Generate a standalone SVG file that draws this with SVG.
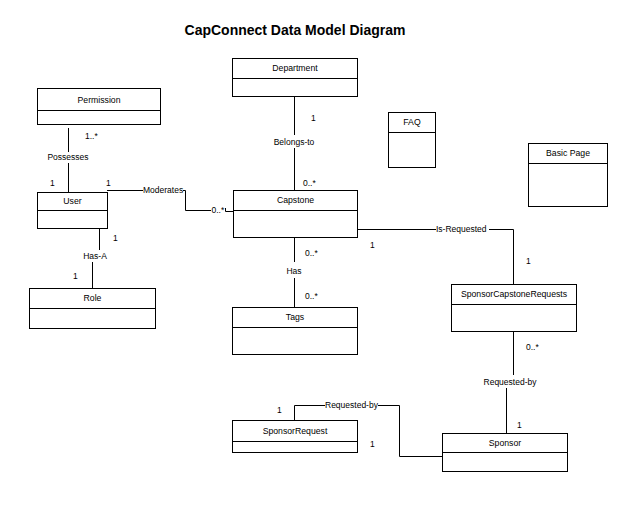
<svg xmlns="http://www.w3.org/2000/svg" width="624" height="518" viewBox="0 0 624 518">
<style>
.box{fill:#fff;stroke:#000;stroke-width:1}
.div{stroke:#000;stroke-width:1}
.t{font-family:"Liberation Sans",Arial,sans-serif;font-size:8.7px;fill:#000;text-anchor:middle}
.l{font-family:"Liberation Sans",Arial,sans-serif;font-size:8.5px;fill:#000;text-anchor:middle}
.m{font-family:"Liberation Sans",Arial,sans-serif;font-size:8.5px;fill:#000}
.title{font-family:"Liberation Sans",Arial,sans-serif;font-size:14px;font-weight:bold;fill:#000;text-anchor:middle}
.c{fill:none;stroke:#000;stroke-width:1}
</style>
<rect width="624" height="518" fill="#fff"/>
<text class="title" x="295" y="35">CapConnect Data Model Diagram</text>

<g id="connectors">
  <!-- Permission - User -->
  <path class="c" d="M68.5,128 V152 M68.5,163 V192"/>
  <text class="l" x="68" y="160">Possesses</text>
  <text class="m" x="85" y="139">1..*</text>
  <text class="m" x="50" y="186">1</text>
  <!-- User - Capstone (Moderates) -->
  <path class="c" d="M107,190.5 H143 M183,190.5 H185.5 V210.5 H211 M225.5,208 V211.5 H233"/>
  <text class="m" x="211.5" y="213">0..*</text>
  <text class="m" x="143" y="193">Moderates</text>
  <text class="m" x="106" y="186">1</text>
  <!-- User - Role -->
  <path class="c" d="M99.5,228 V250 M92.5,262 V288"/>
  <text class="l" x="95" y="259">Has-A</text>
  <text class="m" x="113" y="241">1</text>
  <text class="m" x="73" y="279">1</text>
  <!-- Department - Capstone -->
  <path class="c" d="M294.5,96 V135 M294.5,148 V190"/>
  <text class="l" x="294" y="145">Belongs-to</text>
  <text class="m" x="311" y="121">1</text>
  <text class="m" x="303" y="186">0..*</text>
  <!-- Capstone - Tags -->
  <path class="c" d="M294.5,237 V262 M294.5,278 V307"/>
  <text class="l" x="294" y="274">Has</text>
  <text class="m" x="305" y="256">0..*</text>
  <text class="m" x="305" y="299">0..*</text>
  <!-- Capstone - SponsorCapstoneRequests -->
  <path class="c" d="M357,229.5 H436 M489,229.5 H513.5 V284"/>
  <text class="m" x="436" y="232">Is-Requested</text>
  <text class="m" x="370" y="248">1</text>
  <text class="m" x="526" y="264">1</text>
  <!-- SponsorCapstoneRequests - Sponsor -->
  <path class="c" d="M513.5,331 V375 M506.5,388 V433"/>
  <text class="l" x="510" y="385">Requested-by</text>
  <text class="m" x="526" y="350">0..*</text>
  <text class="m" x="517" y="428">1</text>
  <!-- SponsorRequest - Sponsor -->
  <path class="c" d="M294.5,420 V405.5 H325 M378,405.5 H399.5 V456.5 H442"/>
  <text class="m" x="325" y="408">Requested-by</text>
  <text class="m" x="277" y="413">1</text>
  <text class="m" x="370" y="447">1</text>
</g>

<g id="permission">
  <rect class="box" x="37.5" y="88.5" width="123" height="36"/>
  <line class="div" x1="37.5" y1="110.5" x2="160.5" y2="110.5"/>
  <text class="t" x="99" y="103">Permission</text>
</g>
<g id="user">
  <rect class="box" x="37.5" y="192.5" width="70" height="36"/>
  <line class="div" x1="37.5" y1="210.5" x2="107.5" y2="210.5"/>
  <text class="t" x="72.5" y="204">User</text>
</g>
<g id="role">
  <rect class="box" x="29.5" y="288.5" width="126" height="40"/>
  <line class="div" x1="29.5" y1="308.5" x2="155.5" y2="308.5"/>
  <text class="t" x="92.5" y="301">Role</text>
</g>
<g id="department">
  <rect class="box" x="232.5" y="58.5" width="125" height="38"/>
  <line class="div" x1="232.5" y1="78.5" x2="357.5" y2="78.5"/>
  <text class="t" x="295" y="71">Department</text>
</g>
<g id="capstone">
  <rect class="box" x="233.5" y="190.5" width="124" height="47"/>
  <line class="div" x1="233.5" y1="210.5" x2="357.5" y2="210.5"/>
  <text class="t" x="295.5" y="203">Capstone</text>
</g>
<g id="tags">
  <rect class="box" x="232.5" y="307.5" width="125" height="47"/>
  <line class="div" x1="232.5" y1="327.5" x2="357.5" y2="327.5"/>
  <text class="t" x="295" y="320">Tags</text>
</g>
<g id="faq">
  <rect class="box" x="388.5" y="112.5" width="47" height="55"/>
  <line class="div" x1="388.5" y1="132.5" x2="435.5" y2="132.5"/>
  <text class="t" x="412" y="125">FAQ</text>
</g>
<g id="basicpage">
  <rect class="box" x="528.5" y="143.5" width="79" height="63"/>
  <line class="div" x1="528.5" y1="163.5" x2="607.5" y2="163.5"/>
  <text class="t" x="568" y="156">Basic Page</text>
</g>
<g id="sponsorcapstonerequests">
  <rect class="box" x="451.5" y="284.5" width="125" height="47"/>
  <line class="div" x1="451.5" y1="304.5" x2="576.5" y2="304.5"/>
  <text class="t" x="514" y="297">SponsorCapstoneRequests</text>
</g>
<g id="sponsorrequest">
  <rect class="box" x="232.5" y="420.5" width="125" height="32"/>
  <line class="div" x1="232.5" y1="441.5" x2="357.5" y2="441.5"/>
  <text class="t" x="295" y="434">SponsorRequest</text>
</g>
<g id="sponsor">
  <rect class="box" x="442.5" y="433.5" width="125" height="38"/>
  <line class="div" x1="442.5" y1="452.5" x2="567.5" y2="452.5"/>
  <text class="t" x="505" y="446">Sponsor</text>
</g>
</svg>
